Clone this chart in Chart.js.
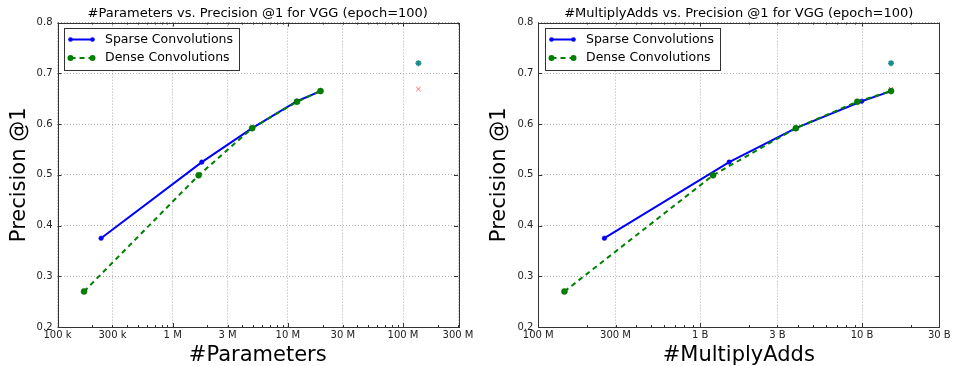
<!DOCTYPE html>
<html>
<head>
<meta charset="utf-8">
<script src="https://cdn.jsdelivr.net/npm/chart.js@4.4.0/dist/chart.umd.min.js"></script>
<style>
  html, body { margin: 0; padding: 0; background: #fff; }
  #wrap { position: relative; width: 953px; height: 366px; }
  .panel { position: absolute; top: 0; height: 366px; }
</style>
</head>
<body>
<div id="wrap">
  <div class="panel" style="left:0;width:480px"><canvas id="paramsChart"></canvas></div>
  <div class="panel" style="left:480px;width:473px"><canvas id="maddsChart"></canvas></div>
</div>
<script>
// precision @1 (same runs on both plots)
const precSparse = [0.375, 0.525, 0.592, 0.645, 0.665];
const precDense = [0.27, 0.499, 0.592, 0.644, 0.665];

// model size / compute for each run
const paramsSparse = [2.39e5, 1.79e6, 4.9e6, 1.2e7, 1.92e7];
const paramsDense = [1.7e5, 1.68e6, 4.9e6, 1.2e7, 1.92e7];
const maddsSparse = [2.56e8, 1.51e9, 3.9e9, 9.94e9, 1.51e10];
const maddsDense = [1.45e8, 1.2e9, 3.9e9, 9.34e9, 1.51e10];

// single reference points (star + cross) at full VGG size
const refParams = [1.36e8];
const refMadds = [1.51e10];
const refPrecStar = [0.72];
const refPrecCross = [0.669];

const paramsTicks = [1e5, 3e5, 1e6, 3e6, 1e7, 3e7, 1e8, 3e8];
const paramsTickLabels = ["100 k", "300 k", "1 M", "3 M", "10 M", "30 M", "100 M", "300 M"];
const maddsTicks = [1e8, 3e8, 1e9, 3e9, 1e10, 3e10];
const maddsTickLabels = ["100 M", "300 M", "1 B", "3 B", "10 B", "30 B"];
const precTicks = [0.2, 0.3, 0.4, 0.5, 0.6, 0.7, 0.8];

Chart.defaults.font.family = "'DejaVu Sans', sans-serif";

const pts = (xs, ys) => xs.map((x, i) => ({ x: x, y: ys[i] }));

// box around the plot + inward tick marks like matplotlib
const framePlugin = {
  id: "frame",
  afterDraw(chart) {
    const { ctx, chartArea: a, scales } = chart;
    ctx.save();
    ctx.strokeStyle = "#333";
    ctx.lineWidth = 1;
    ctx.setLineDash([]);
    ctx.beginPath();
    scales.y.ticks.forEach((t) => {
      const y = Math.round(scales.y.getPixelForValue(t.value)) + 0.5;
      ctx.moveTo(a.left, y);
      ctx.lineTo(a.left + 4, y);
      ctx.moveTo(a.right, y);
      ctx.lineTo(a.right - 4, y);
    });
    const xs = scales.x;
    for (let d = Math.floor(Math.log10(xs.min)); d <= Math.log10(xs.max); d++) {
      for (let m = 1; m < 10; m++) {
        const v = m * Math.pow(10, d);
        if (v < xs.min * 0.999 || v > xs.max * 1.001) continue;
        const len = m === 1 ? 4 : 2;
        const x = Math.round(xs.getPixelForValue(v)) + 0.5;
        ctx.moveTo(x, a.bottom);
        ctx.lineTo(x, a.bottom - len);
        ctx.moveTo(x, a.top);
        ctx.lineTo(x, a.top + len);
      }
    }
    ctx.stroke();
    ctx.strokeRect(Math.round(a.left) + 0.5, Math.round(a.top) + 0.5,
      Math.round(a.right - a.left), Math.round(a.bottom - a.top));
    ctx.restore();
  },
};

// legend box with line + two markers per entry
const legendPlugin = {
  id: "boxLegend",
  afterDraw(chart) {
    const { ctx, chartArea: a } = chart;
    const items = chart.data.datasets.filter((d) => d.showLine !== false);
    const x0 = Math.round(a.left + 6.5) + 0.5;
    const y0 = Math.round(a.top + 5.5) + 0.5;
    const rowH = 18.4;
    ctx.save();
    ctx.fillStyle = "#fff";
    ctx.strokeStyle = "#333";
    ctx.lineWidth = 1;
    ctx.fillRect(x0, y0, 175, 42);
    ctx.strokeRect(x0, y0, 175, 42);
    items.forEach((d, i) => {
      const cy = y0 + 11 + i * rowH;
      ctx.strokeStyle = d.borderColor;
      ctx.lineWidth = d.borderWidth;
      ctx.setLineDash(d.borderDash || []);
      ctx.beginPath();
      ctx.moveTo(x0 + 6, cy);
      ctx.lineTo(x0 + 28, cy);
      ctx.stroke();
      ctx.setLineDash([]);
      ctx.fillStyle = d.pointBackgroundColor;
      [x0 + 6, x0 + 28].forEach((px) => {
        ctx.beginPath();
        ctx.arc(px, cy, d.pointRadius, 0, Math.PI * 2);
        ctx.fill();
      });
      ctx.fillStyle = "#000";
      ctx.font = "12.5px 'DejaVu Sans', sans-serif";
      ctx.textBaseline = "middle";
      ctx.fillText(d.label, x0 + 40.5, cy);
    });
    ctx.restore();
  },
};

function makeChart(id, cfg) {
  return new Chart(document.getElementById(id), {
    type: "line",
    data: {
      datasets: [
        {
          label: "Sparse Convolutions",
          data: pts(cfg.sparse, precSparse),
          borderColor: "#0000ff",
          backgroundColor: "#0000ff",
          pointBackgroundColor: "#0000ff",
          pointBorderColor: "#0000ff",
          borderWidth: 2,
          pointRadius: 2.3,
          pointBorderWidth: 0.5,
          order: 1,
        },
        {
          label: "Dense Convolutions",
          data: pts(cfg.dense, precDense),
          borderColor: "#008000",
          backgroundColor: "#008000",
          pointBackgroundColor: "#008000",
          pointBorderColor: "#006000",
          borderWidth: 2,
          borderDash: [5, 4],
          pointRadius: 3,
          pointBorderWidth: 0.5,
          order: 0,
        },
        {
          label: "VGG star",
          data: pts(cfg.ref, refPrecStar),
          showLine: false,
          pointStyle: "star",
          pointRadius: 3,
          borderColor: "#1f8c8c",
          backgroundColor: "#1f8c8c",
          borderWidth: 1.6,
          order: 2,
        },
        {
          label: "VGG cross",
          data: pts(cfg.ref, refPrecCross),
          showLine: false,
          pointStyle: "crossRot",
          pointRadius: 3.2,
          borderColor: "#ff6a6a",
          backgroundColor: "#ff6a6a",
          borderWidth: 1,
          order: 2,
        },
      ],
    },
    options: {
      responsive: true,
      maintainAspectRatio: false,
      animation: false,
      layout: { padding: { top: 1, right: cfg.padRight, left: 0, bottom: 0 } },
      plugins: {
        legend: { display: false },
        tooltip: { enabled: false },
        title: {
          display: true,
          text: cfg.title,
          fullSize: false,
          color: "#000",
          font: { size: 13, weight: "normal", lineHeight: 1.2 },
          padding: { top: 5, bottom: 1 },
        },
      },
      scales: {
        x: {
          type: "logarithmic",
          min: cfg.ticks[0],
          max: cfg.ticks[cfg.ticks.length - 1],
          afterBuildTicks: (s) => {
            s.ticks = cfg.ticks.map((v) => ({ value: v }));
          },
          afterFit: (s) => {
            s.height = 39;
            s.paddingLeft = 0;
            s.paddingRight = 0;
          },
          ticks: {
            autoSkip: false,
            maxRotation: 0,
            padding: 2,
            color: "#222",
            font: { size: 10 },
            callback: (v, i) => cfg.tickLabels[i],
          },
          grid: { color: "#b0b0b0", drawTicks: false },
          border: { display: false, dash: [1, 2] },
          title: {
            display: true,
            text: cfg.xTitle,
            color: "#000",
            font: { size: 21, lineHeight: 1 },
            padding: 0,
          },
        },
        y: {
          min: 0.2,
          max: 0.8,
          afterBuildTicks: (s) => {
            s.ticks = precTicks.map((v) => ({ value: v }));
          },
          afterFit: (s) => {
            s.width = cfg.yWidth;
          },
          ticks: {
            padding: 5,
            color: "#222",
            font: { size: 10 },
            callback: (v) => v.toFixed(1),
          },
          grid: { color: "#b0b0b0", drawTicks: false },
          border: { display: false, dash: [1, 2] },
          title: {
            display: true,
            text: "Precision @1",
            color: "#000",
            font: { size: 21, lineHeight: 1 },
            padding: { top: 9, bottom: 0 },
          },
        },
      },
    },
    plugins: [framePlugin, legendPlugin],
  });
}

makeChart("paramsChart", {
  title: "#Parameters vs. Precision @1 for VGG (epoch=100)",
  xTitle: "#Parameters",
  sparse: paramsSparse,
  dense: paramsDense,
  ref: refParams,
  ticks: paramsTicks,
  tickLabels: paramsTickLabels,
  yWidth: 57.5,
  padRight: 22,
});

makeChart("maddsChart", {
  title: "#MultiplyAdds vs. Precision @1 for VGG (epoch=100)",
  xTitle: "#MultiplyAdds",
  sparse: maddsSparse,
  dense: maddsDense,
  ref: refMadds,
  ticks: maddsTicks,
  tickLabels: maddsTickLabels,
  yWidth: 58.3,
  padRight: 13.7,
});
</script>
</body>
</html>
